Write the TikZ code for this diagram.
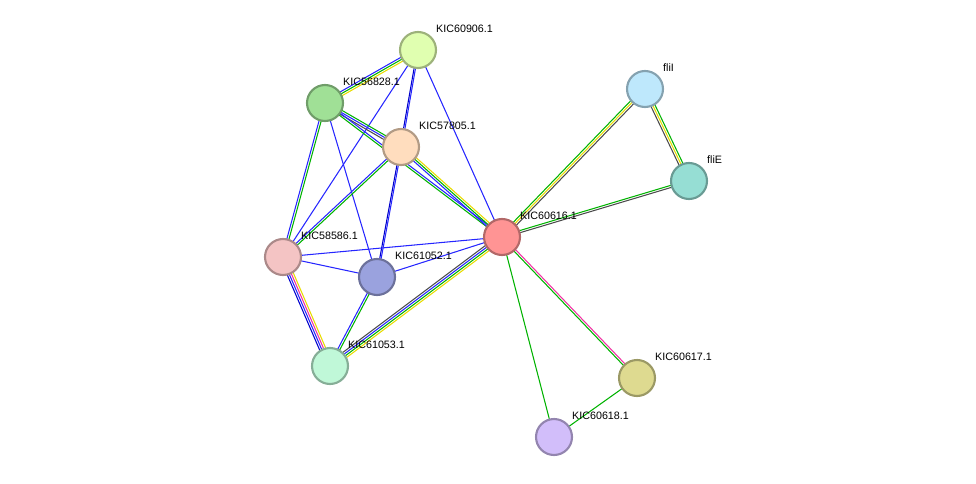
\documentclass[tikz,border=0pt]{standalone}
\usepackage{fontspec}
\setmainfont{Liberation Sans}
\usetikzlibrary{calc}
\tikzset{
  prot/.style={circle, draw=#1!70!black, fill=#1, line width=1.2pt, minimum size=0.72cm, inner sep=0pt},
  lbl/.style={font=\fontsize{6.1}{7}\selectfont, anchor=south west, inner sep=0.5pt},
}
\definecolor{cyel}{HTML}{E0FFB0}
\definecolor{cgrn}{HTML}{A0E096}
\definecolor{cpch}{HTML}{FFDDBE}
\definecolor{cblu}{HTML}{BEE8FC}
\definecolor{ctea}{HTML}{96DED4}
\definecolor{cred}{HTML}{FF9494}
\definecolor{cpnk}{HTML}{F4C4C4}
\definecolor{cvio}{HTML}{9AA2DE}
\definecolor{cmnt}{HTML}{C0F8D8}
\definecolor{ckha}{HTML}{DEDA90}
\definecolor{clav}{HTML}{D2BEFA}
\colorlet{eY}{yellow!80!olive}
\colorlet{eG}{green!70!black}
\colorlet{eB}{blue!85!white}
\colorlet{eM}{magenta!80!white}
\colorlet{eK}{black!70}
% edge with parallel coloured strands
\newcommand\strand[4]{\draw[#3, line width=0.6pt] ($(#1)!#4!90:(#2)$) -- ($(#2)!#4!-90:(#1)$);}
\begin{document}
\begin{tikzpicture}[x=0.02cm, y=-0.02cm]
\useasboundingbox (0,0) rectangle (976,483);

% node centres
\coordinate (p60906) at (418,50);
\coordinate (p56828) at (325,103);
\coordinate (p57805) at (401,147);
\coordinate (pfliI) at (645,89);
\coordinate (pfliE) at (689,181);
\coordinate (p60616) at (502,237);
\coordinate (p58586) at (283,257);
\coordinate (p61052) at (377,277);
\coordinate (p61053) at (330,366);
\coordinate (p60617) at (637,378);
\coordinate (p60618) at (554,437);

% edges
\strand{p60906}{p56828}{eY}{1.2pt}\strand{p60906}{p56828}{eG}{0pt}\strand{p60906}{p56828}{eB}{-1.2pt}
\strand{p60906}{p57805}{eB}{0.4pt}\strand{p60906}{p57805}{blue!80!black}{-0.4pt}
\strand{p57805}{p61052}{eB}{0.4pt}\strand{p57805}{p61052}{blue!80!black}{-0.4pt}
\strand{p60906}{p58586}{eB}{0pt}
\strand{p60906}{p60616}{eB}{0pt}
\strand{p56828}{p57805}{eG}{1.2pt}\strand{p56828}{p57805}{eB}{0pt}\strand{p56828}{p57805}{eK}{-1.2pt}
\strand{p56828}{p60616}{eB}{0.6pt}\strand{p56828}{p60616}{eG}{-0.6pt}
\strand{p56828}{p58586}{eG}{0.6pt}\strand{p56828}{p58586}{eB}{-0.6pt}
\strand{p56828}{p61052}{eB}{0pt}
\strand{p57805}{p60616}{eY}{1.2pt}\strand{p57805}{p60616}{eG}{0pt}\strand{p57805}{p60616}{eB}{-1.2pt}
\strand{p57805}{p58586}{eG}{0.6pt}\strand{p57805}{p58586}{eB}{-0.6pt}
\strand{p58586}{p60616}{eB}{0pt}
\strand{p58586}{p61052}{eB}{0pt}
\strand{p58586}{p61053}{eY}{1.8pt}\strand{p58586}{p61053}{eM}{0.6pt}\strand{p58586}{p61053}{eB}{-0.6pt}\strand{p58586}{p61053}{blue!80!black}{-1.8pt}
\strand{p61052}{p60616}{eB}{0pt}
\strand{p61052}{p61053}{eG}{0.6pt}\strand{p61052}{p61053}{eB}{-0.6pt}
\strand{p61053}{p60616}{eY}{-1.8pt}\strand{p61053}{p60616}{eG}{-0.6pt}\strand{p61053}{p60616}{eB}{0.6pt}\strand{p61053}{p60616}{eK}{1.8pt}
\strand{p60616}{pfliI}{eG}{1.2pt}\strand{p60616}{pfliI}{eY}{0pt}\strand{p60616}{pfliI}{eK}{-1.2pt}
\strand{p60616}{pfliE}{eG}{0.6pt}\strand{p60616}{pfliE}{eK}{-0.6pt}
\strand{pfliI}{pfliE}{eG}{1.2pt}\strand{pfliI}{pfliE}{eY}{0pt}\strand{pfliI}{pfliE}{eK}{-1.2pt}
\strand{p60616}{p60618}{eG}{0pt}
\strand{p60616}{p60617}{eM}{0.6pt}\strand{p60616}{p60617}{eG}{-0.6pt}
\strand{p60617}{p60618}{eG}{0pt}

% proteins
\node[prot=cyel] (n60906) at (p60906) {};
\node[prot=cgrn] (n56828) at (p56828) {};
\node[prot=cpch] (n57805) at (p57805) {};
\node[prot=cblu] (nfliI) at (pfliI) {};
\node[prot=ctea] (nfliE) at (pfliE) {};
\node[prot=cred] (n60616) at (p60616) {};
\node[prot=cpnk] (n58586) at (p58586) {};
\node[prot=cvio] (n61052) at (p61052) {};
\node[prot=cmnt] (n61053) at (p61053) {};
\node[prot=ckha] (n60617) at (p60617) {};
\node[prot=clav] (n60618) at (p60618) {};

% labels
\foreach \n/\t in {60906/KIC60906.1, 56828/KIC56828.1, 57805/KIC57805.1, fliI/fliI, fliE/fliE,
  60616/KIC60616.1, 58586/KIC58586.1, 61052/KIC61052.1, 61053/KIC61053.1, 60617/KIC60617.1, 60618/KIC60618.1}
  \node[lbl] (l\n) at ($(p\n)+(17,-16)$) {\t};
\end{tikzpicture}
\end{document}
